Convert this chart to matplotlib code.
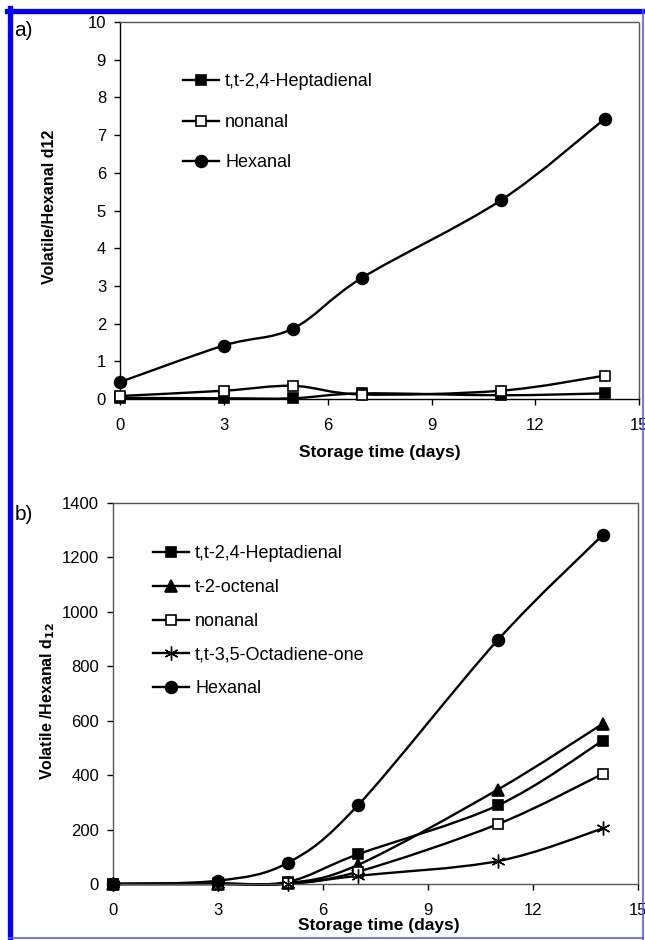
import numpy as np
import matplotlib
matplotlib.use("Agg")
import matplotlib.pyplot as plt
from matplotlib.path import Path
from matplotlib.patches import PathPatch
from matplotlib.lines import Line2D

plt.rcParams["font.family"] = ["Liberation Sans", "DejaVu Sans"]

# Data
days = [0, 3, 5, 7, 11, 14]

a_heptadienal = [0.03, 0.02, 0.02, 0.15, 0.10, 0.15]
a_nonanal = [0.08, 0.22, 0.35, 0.12, 0.22, 0.62]
a_hexanal = [0.45, 1.42, 1.87, 3.22, 5.27, 7.43]

b_heptadienal = [0, 2, 8, 109, 289, 527]
b_octenal = [0, 0, 3, 70, 347, 589]
b_nonanal = [0, 0, 2, 45, 220, 405]
b_octadienone = [0, 0, 0, 30, 84, 204]
b_hexanal = [0, 12, 78, 289, 897, 1283]

X_TICKS = [0, 3, 6, 9, 12, 15]
LW = 1.7


def smooth_patch(x, y):
    # Excel-like smoothed line: Catmull-Rom -> cubic Bezier
    pts = np.column_stack([x, y]).astype(float)
    n = len(pts)
    verts = [pts[0]]
    codes = [Path.MOVETO]
    for i in range(n - 1):
        p0 = pts[i - 1] if i > 0 else pts[i]
        p1 = pts[i]
        p2 = pts[i + 1]
        p3 = pts[i + 2] if i + 2 < n else pts[i + 1]
        verts += [p1 + (p2 - p0) / 6, p2 - (p3 - p1) / 6, p2]
        codes += [Path.CURVE4] * 3
    return PathPatch(Path(verts, codes), fill=False, edgecolor="black", lw=LW, clip_on=False)


def draw_series(ax, y, marker, ms, face, mew=1.2):
    ax.add_patch(smooth_patch(days, y))
    ax.plot(days, y, linestyle="none", marker=marker, ms=ms, mfc=face, mec="black",
            mew=mew, clip_on=False, zorder=3)
    return Line2D([], [], color="black", lw=LW, marker=marker, ms=ms, mfc=face,
                  mec="black", mew=mew)


def style_axes(ax, solid_lb):
    for side in ["top", "right", "left", "bottom"]:
        ax.spines[side].set_color("#555555")
        ax.spines[side].set_linestyle((0, (1, 1)))
        ax.spines[side].set_linewidth(1.0)
    if solid_lb:
        for side in ["left", "bottom"]:
            ax.spines[side].set_color("black")
            ax.spines[side].set_linestyle("-")
    ax.set_xlim(0, 15)
    ax.set_xticks(X_TICKS)
    ax.tick_params(axis="both", direction="out", length=4, width=1, labelsize=12)
    ax.tick_params(axis="x", pad=10)
    ax.tick_params(axis="y", pad=6)


fig = plt.figure(figsize=(6.45, 9.4), dpi=100)

# Panel a
ax1 = fig.add_axes([0.186, 0.5755, 0.805, 0.401])
style_axes(ax1, True)
ax1.set_ylim(0, 10)
ax1.set_yticks(range(0, 11))
h1 = draw_series(ax1, a_heptadienal, "s", 7.5, "black")
h2 = draw_series(ax1, a_nonanal, "s", 7.5, "white")
h3 = draw_series(ax1, a_hexanal, "o", 8.5, "black")
ax1.legend([h1, h2, h3], ["t,t-2,4-Heptadienal", "nonanal", "Hexanal"],
           loc="upper left", bbox_to_anchor=(0.121, 0.864), frameon=False,
           fontsize=13, handlelength=2.0, handletextpad=0.35, labelspacing=1.3,
           borderpad=0, borderaxespad=0)
ax1.set_xlabel("Storage time (days)", fontsize=12.5, fontweight="bold")
ax1.xaxis.set_label_coords(0.5, -0.122)
ax1.set_ylabel("Volatile/Hexanal d12", fontsize=11.5, fontweight="bold")
ax1.yaxis.set_label_coords(-0.121, 0.51)
fig.text(0.037, 0.968, "a)", fontsize=15, ha="center", va="center")

# Panel b
ax2 = fig.add_axes([0.175, 0.0596, 0.814, 0.4053])
style_axes(ax2, False)
ax2.set_ylim(0, 1400)
ax2.set_yticks(range(0, 1401, 200))
g1 = draw_series(ax2, b_heptadienal, "s", 7.5, "black")
g2 = draw_series(ax2, b_octenal, "^", 8.5, "black")
g3 = draw_series(ax2, b_nonanal, "s", 7.5, "white")
g4 = draw_series(ax2, b_octadienone, (6, 2, 0), 10, "black", mew=1.0)
g5 = draw_series(ax2, b_hexanal, "o", 8.5, "black")
ax2.legend([g1, g2, g3, g4, g5],
           ["t,t-2,4-Heptadienal", "t-2-octenal", "nonanal", "t,t-3,5-Octadiene-one", "Hexanal"],
           loc="upper left", bbox_to_anchor=(0.076, 0.889), frameon=False,
           fontsize=13, handlelength=2.0, handletextpad=0.35, labelspacing=0.93,
           borderpad=0, borderaxespad=0)
ax2.set_xlabel("Storage time (days)", fontsize=12.5, fontweight="bold")
ax2.xaxis.set_label_coords(0.506, -0.089)
ax2.set_ylabel("Volatile /Hexanal d$_{\\mathbf{12}}$", fontsize=11.5, fontweight="bold")
ax2.yaxis.set_label_coords(-0.107, 0.48)
fig.text(0.037, 0.453, "b)", fontsize=15, ha="center", va="center")

# Blue frame around the figure
W, H = 645.0, 940.0
fig.add_artist(Line2D([7 / W, 1], [1 - 10.5 / H, 1 - 10.5 / H], color="#0000ff", lw=3.8,
                      transform=fig.transFigure))
fig.add_artist(Line2D([9.5 / W, 9.5 / W], [0, 1 - 8 / H], color="#0000ff", lw=3.8,
                      transform=fig.transFigure))
fig.add_artist(Line2D([642.5 / W, 642.5 / W], [0, 1 - 10 / H], color="#5a5aff", lw=1.2,
                      transform=fig.transFigure))
fig.add_artist(Line2D([9 / W, 643 / W], [1 - 937.5 / H, 1 - 937.5 / H], color="#5a5aff", lw=1.2,
                      transform=fig.transFigure))

fig.savefig("out.png", dpi=100)
